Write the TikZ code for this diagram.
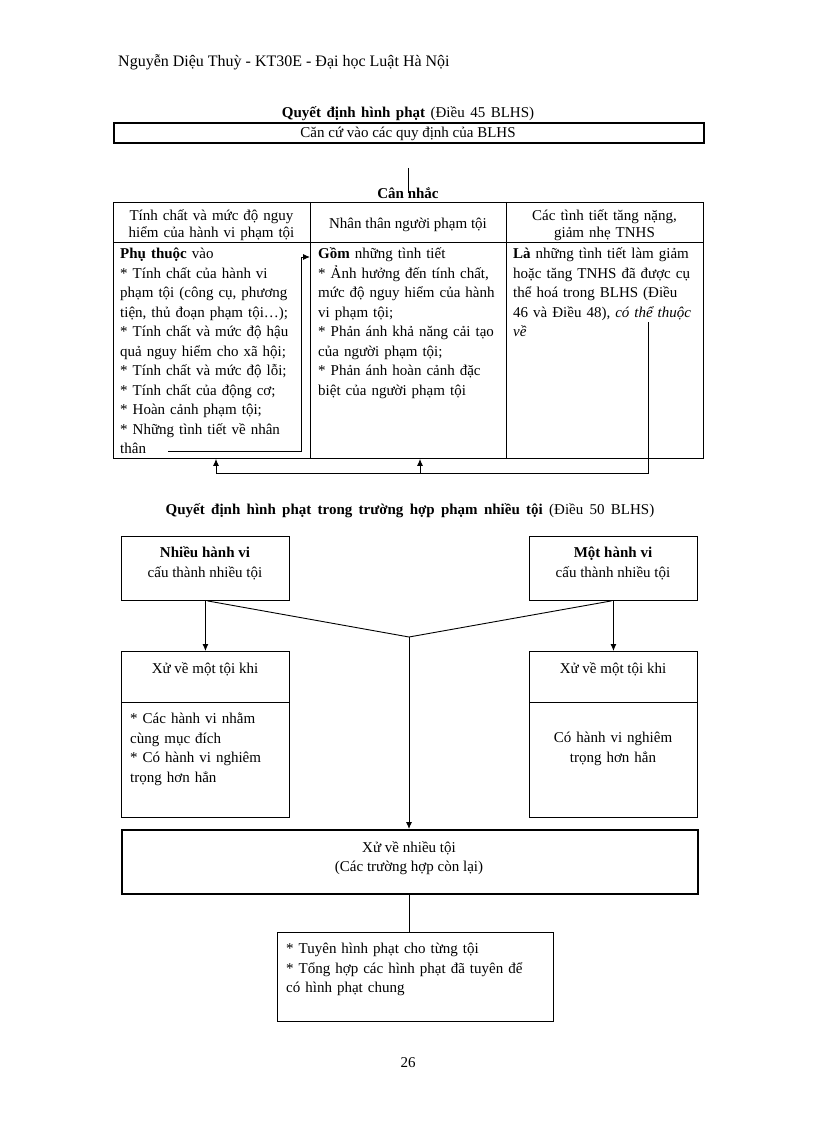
\documentclass[tikz,border=0pt]{standalone}
\usepackage{fontspec}
\setmainfont{Liberation Serif}
\usetikzlibrary{arrows.meta}
\newcommand\fs{\fontsize{15}{19.5}\selectfont}
\newcommand\fh{\fontsize{15}{17.5}\selectfont}
\newcommand\st{\rule{0pt}{15pt}}
\begin{document}
\begin{tikzpicture}[x=1pt,y=-1pt,
  thin/.style={line width=0.9pt},
  heavy/.style={line width=1.6pt},
  box/.style={draw, thin, inner sep=0pt, anchor=north west},
  arr/.style={thin, -{Latex[length=7pt,width=6pt]}},
  lbl/.style={inner sep=0pt, font=\fs},
  blk/.style={inner sep=0pt, anchor=north west, align=left, font=\fs},
  hdc/.style={inner sep=0pt, anchor=north, align=center, font=\fh},
]
\useasboundingbox (0,0) rectangle (816,1123);

% ---------- page header ----------
\node[lbl, anchor=base west, font=\fontsize{16}{19}\selectfont] (hdr) at (118,67) {Nguyễn Diệu Thuỳ - KT30E - Đại học Luật Hà Nội};

% ---------- part 1 ----------
\node[lbl, anchor=base] (t1) at (408,118) {\spaceskip=5.5pt plus 1pt\textbf{Quyết định hình phạt} (Điều 45 BLHS)};
\node[box, heavy, minimum width=590pt, minimum height=20pt] (cc) at (113,122) {};
\node[lbl, anchor=base] (cct) at (408,137.5) {Căn cứ vào các quy định của BLHS};
\coordinate (v1) at (408,168);
\coordinate (v2) at (408,193);
\draw[thin] (v1) -- (v2);
\node[lbl, anchor=base, font=\fs\bfseries] (cn) at (408,198.5) {Cân nhắc};

% table
\node[box, minimum width=590pt, minimum height=256pt] (tbl) at (113,202) {};
\draw[thin] ([yshift=-40pt]tbl.north west) -- ([yshift=-40pt]tbl.north east);
\draw[thin] (310,202) -- (310,458);
\draw[thin] (506,202) -- (506,458);

\node[hdc, text width=195pt] (h1) at (211.5,205) {\st Tính chất và mức độ nguy\\ hiểm của hành vi phạm tội};
\node[lbl, anchor=base] (h2) at (408,229) {Nhân thân người phạm tội};
\node[hdc, text width=195pt] (h3) at (604.5,205) {\st Các tình tiết tăng nặng,\\ giảm nhẹ TNHS};

\node[blk, text width=186pt] (b1) at (120,243.5) {\st\textbf{Phụ thuộc} vào\\{}* Tính chất của hành vi\\ phạm tội (công cụ, phương\\ tiện, thủ đoạn phạm tội…);\\{}* Tính chất và mức độ hậu\\ quả nguy hiểm cho xã hội;\\{}* Tính chất và mức độ lỗi;\\{}* Tính chất của động cơ;\\{}* Hoàn cảnh phạm tội;\\{}* Những tình tiết về nhân\\ thân};
\node[blk, text width=186pt] (b2) at (318,243.5) {\st\textbf{Gồm} những tình tiết\\{}* Ảnh hưởng đến tính chất,\\ mức độ nguy hiểm của hành\\ vi phạm tội;\\{}* Phản ánh khả năng cải tạo\\ của người phạm tội;\\{}* Phản ánh hoàn cảnh đặc\\ biệt của người phạm tội};
\node[blk, text width=188pt] (b3) at (513,243.5) {\st\textbf{Là} những tình tiết làm giảm\\ hoặc tăng TNHS đã được cụ\\ thể hoá trong BLHS (Điều\\ 46 và Điều 48), \textit{có thể thuộc}\\ \textit{về}};

% arrows of the table
\coordinate (p1) at (168,451.5);
\coordinate (p2) at (301,451.5);
\coordinate (p3) at (301,257);
\coordinate (p4) at (310,257);
\draw[arr] (p1) -- (p2) -- (p3) -- (p4);
\coordinate (q1) at (648,322);
\coordinate (q2) at (648,473);
\coordinate (q3) at (216,473);
\coordinate (q4) at (420,473);
\draw[thin] (q1) -- (q2) -- (q3);
\draw[arr] (q3) -- (q3 |- tbl.south);
\draw[arr] (q4) -- (q4 |- tbl.south);

% ---------- part 2 ----------
\node[lbl, anchor=base] (t2) at (410,514) {\spaceskip=6.3pt plus 1pt\textbf{Quyết định hình phạt trong trường hợp phạm nhiều tội} (Điều 50 BLHS)};

\node[box, minimum width=168pt, minimum height=64pt] (nl) at (121,536) {};
\node[lbl, anchor=base] (nlt1) at (205,557.5) {\textbf{Nhiều hành vi}};
\node[lbl, anchor=base] (nlt2) at (205,577) {cấu thành nhiều tội};
\node[box, minimum width=168pt, minimum height=64pt] (nr) at (529,536) {};
\node[lbl, anchor=base] (nrt1) at (613,557.5) {\textbf{Một hành vi}};
\node[lbl, anchor=base] (nrt2) at (613,577) {cấu thành nhiều tội};

\node[box, minimum width=168pt, minimum height=166pt] (xl) at (121,651) {};
\draw[thin] ([yshift=-51pt]xl.north west) -- ([yshift=-51pt]xl.north east);
\node[lbl, anchor=base] (xlt) at (205,673.5) {Xử về một tội khi};
\node[blk, text width=155pt] (xlb) at (130,708.5) {\st{}* Các hành vi nhằm\\ cùng mục đích\\{}* Có hành vi nghiêm\\ trọng hơn hẳn};

\node[box, minimum width=168pt, minimum height=166pt] (xr) at (529,651) {};
\draw[thin] ([yshift=-51pt]xr.north west) -- ([yshift=-51pt]xr.north east);
\node[lbl, anchor=base] (xrt) at (613,673.5) {Xử về một tội khi};
\node[hdc, font=\fs, text width=160pt] (xrb) at (613,727.5) {\st Có hành vi nghiêm\\ trọng hơn hẳn};

\node[box, heavy, minimum width=576pt, minimum height=64pt] (big) at (121,829) {};
\node[lbl, anchor=base] (bgt1) at (409,852) {Xử về nhiều tội};
\node[lbl, anchor=base] (bgt2) at (409,871.5) {(Các trường hợp còn lại)};

\node[box, minimum width=276pt, minimum height=89pt] (sm) at (277,932) {};
\node[blk, text width=262pt] (smt) at (286,938.5) {\st{}* Tuyên hình phạt cho từng tội\\{}* Tổng hợp các hình phạt đã tuyên để\\ có hình phạt chung};

% connectors
\draw[arr] (nl.south) -- (xl.north);
\draw[arr] (nr.south) -- (xr.north);
\coordinate (apex) at (409,637);
\draw[thin] ([xshift=2pt]nl.south) -- (apex) -- ([xshift=-2pt]nr.south);
\draw[arr] (apex) -- (apex |- big.north);
\draw[thin] (big.south) -- (big.south |- sm.north);

\node[lbl, anchor=base] (pg) at (408,1067.5) {26};
\end{tikzpicture}
\end{document}
